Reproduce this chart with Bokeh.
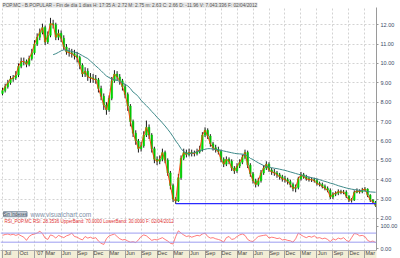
import numpy as np
from bokeh.plotting import figure
from bokeh.models import (Range1d, FixedTicker, CustomJSTickFormatter, Span, Label)
from bokeh.embed import file_html
from bokeh.resources import INLINE

# ---------------- data ----------------
title_text = ("POP.MC - B.POPULAR - Fin de día 1 días H: 17:35 A: 2.72 M: 2.75 m: 2.63 "
              "C: 2.66 D: -11.96 V: 7.043.336 F: 02/04/2012")
rsi_text = "RSI_POP.MC RSI: 28.3536 UpperBand: 70.0000 LowerBand: 30.0000 F: 02/04/2012"

month_labels = ["Jul", "Oct", "'07", "Mar", "Jun", "Sep", "Dec", "Mar", "Jun", "Sep", "Dec",
                "Mar", "Jun", "Sep", "Dec", "Mar", "Jun", "Sep", "Dec", "Mar", "Jun", "Sep",
                "Dec", "Mar"]
month_pos = [0, 3, 6, 8, 11, 14, 17, 20, 23, 26, 29, 32, 35, 38, 41, 44, 47, 50, 53, 56,
             59, 62, 65, 68]          # months since Jul 2006

months = np.arange(0, 70.01, 0.5)    # half-month bars since Jul 2006
open_first = 8.45
close = [8.6, 8.8, 9.0, 9.2, 9.25, 9.4, 9.85, 10.1, 10.1, 9.95,
         10.25, 10.55, 11.0, 11.35, 11.6, 11.85, 11.1, 11.45, 12.05, 12.0,
         11.35, 11.55, 11.3, 10.85, 10.6, 10.55, 10.5, 10.4, 10.3, 9.9,
         9.45, 9.6, 9.3, 9.25, 9.2, 9.15, 8.7, 8.3, 7.85, 7.6,
         8.2, 9.1, 9.45, 9.3, 9.1, 8.8, 8.4, 7.8, 7.0, 6.4,
         6.0, 5.6, 5.75, 6.3, 6.7, 6.3, 5.6, 5.05, 4.95, 5.05,
         5.4, 5.0, 4.35, 3.7, 3.0, 2.9, 4.1, 5.1, 5.4, 5.3,
         5.4, 5.35, 5.35, 5.45, 5.55, 6.3, 6.55, 6.25, 5.85, 5.65,
         5.55, 5.45, 5.05, 4.8, 5.05, 4.95, 4.6, 4.45, 4.7, 4.9,
         5.15, 5.4, 4.75, 4.3, 3.95, 3.75, 3.95, 4.35, 4.6, 4.8,
         4.5, 4.4, 4.35, 4.25, 4.15, 4.05, 4.0, 3.9, 3.75, 3.55,
         3.6, 4.05, 4.25, 4.15, 4.05, 4.0, 4.0, 3.95, 3.8, 3.75,
         3.65, 3.55, 3.45, 3.1, 3.25, 3.3, 3.38, 3.35, 3.36, 3.15,
         2.95, 2.95, 3.35, 3.42, 3.38, 3.47, 3.52, 3.2, 2.95, 2.85,
         2.66]
high = [8.75, 8.95, 9.15, 9.35, 9.4, 9.6, 10.0, 10.3, 10.3, 10.2,
        10.4, 10.75, 11.2, 11.55, 11.8, 12.05, 11.95, 11.65, 12.35, 12.25,
        12.1, 11.75, 11.7, 11.45, 11.0, 10.8, 10.75, 10.7, 10.6, 10.4,
        10.0, 9.8, 9.75, 9.5, 9.45, 9.4, 9.25, 8.85, 8.45, 8.0,
        8.35, 9.3, 9.65, 9.6, 9.45, 9.2, 8.95, 8.5, 7.9, 7.1,
        6.55, 6.1, 5.95, 6.5, 7.05, 6.85, 6.4, 5.7, 5.2, 5.25,
        5.6, 5.5, 5.1, 4.45, 3.8, 3.1, 4.3, 5.25, 5.6, 5.55,
        5.6, 5.55, 5.5, 5.6, 5.75, 6.45, 6.7, 6.65, 6.35, 5.95,
        5.8, 5.7, 5.55, 5.15, 5.2, 5.15, 5.05, 4.7, 4.85, 5.05,
        5.3, 5.55, 5.5, 4.85, 4.4, 4.05, 4.1, 4.5, 4.75, 4.95,
        4.9, 4.6, 4.55, 4.45, 4.35, 4.25, 4.2, 4.1, 4.0, 3.85,
        3.75, 4.15, 4.4, 4.35, 4.25, 4.15, 4.12, 4.1, 4.05, 3.9,
        3.85, 3.75, 3.65, 3.55, 3.35, 3.4, 3.5, 3.48, 3.47, 3.45,
        3.2, 3.05, 3.45, 3.55, 3.5, 3.58, 3.62, 3.55, 3.25, 3.0,
        2.9]
low = [8.35, 8.5, 8.7, 8.9, 9.05, 9.15, 9.3, 9.75, 9.9, 9.8,
       9.85, 10.15, 10.45, 10.9, 11.2, 11.5, 10.95, 11.0, 11.35, 11.8,
       11.2, 11.2, 11.1, 10.7, 10.45, 10.35, 10.3, 10.2, 10.05, 9.7,
       9.3, 9.3, 9.1, 9.0, 9.0, 8.95, 8.5, 8.1, 7.6, 7.35,
       7.5, 8.1, 9.0, 9.1, 8.9, 8.6, 8.2, 7.55, 6.75, 6.2,
       5.8, 5.4, 5.45, 5.65, 6.2, 6.1, 5.4, 4.85, 4.75, 4.8,
       4.95, 4.85, 4.2, 3.5, 2.85, 2.75, 2.85, 4.0, 5.0, 5.15,
       5.2, 5.2, 5.2, 5.25, 5.35, 5.45, 6.2, 6.1, 5.7, 5.5,
       5.4, 5.3, 4.9, 4.65, 4.7, 4.8, 4.45, 4.3, 4.35, 4.6,
       4.8, 5.05, 4.6, 4.15, 3.8, 3.6, 3.65, 3.85, 4.25, 4.5,
       4.4, 4.25, 4.2, 4.1, 4.0, 3.9, 3.85, 3.75, 3.6, 3.4,
       3.35, 3.5, 3.95, 4.05, 3.95, 3.9, 3.88, 3.85, 3.7, 3.65,
       3.55, 3.45, 3.35, 3.0, 3.0, 3.15, 3.2, 3.25, 3.25, 3.05,
       2.85, 2.82, 2.9, 3.3, 3.28, 3.3, 3.4, 3.1, 2.85, 2.75,
       2.6]

ma_start = 9.5
ma = [10.45, 10.5, 10.57, 10.65, 10.7, 10.68, 10.65, 10.62, 10.58, 10.55,
      10.48, 10.4, 10.32, 10.25, 10.12, 10.0, 9.87, 9.75, 9.62, 9.48,
      9.35, 9.27, 9.2, 9.16, 9.12, 9.07, 9.0, 8.92, 8.84, 8.7,
      8.52, 8.42, 8.28, 8.1, 7.95, 7.82, 7.68, 7.52, 7.38, 7.22,
      7.08, 6.93, 6.77, 6.6, 6.42, 6.22, 6.0, 5.82, 5.6, 5.45,
      5.37, 5.34, 5.36, 5.4, 5.44, 5.48, 5.53, 5.57, 5.6, 5.6,
      5.58, 5.56, 5.54, 5.51, 5.48, 5.45, 5.42, 5.39, 5.36, 5.34,
      5.33, 5.32, 5.3, 5.22, 5.1, 5.04, 4.95, 4.87, 4.8, 4.73,
      4.68, 4.65, 4.62, 4.59, 4.57, 4.54, 4.51, 4.48, 4.44, 4.4,
      4.36, 4.32, 4.28, 4.25, 4.21, 4.17, 4.14, 4.1, 4.07, 4.04,
      4.0, 3.95, 3.91, 3.87, 3.82, 3.79, 3.74, 3.69, 3.65, 3.61,
      3.57, 3.54, 3.51, 3.49, 3.47, 3.45, 3.43, 3.41, 3.39, 3.37,
      3.36, 3.35]

rsi = [60, 64, 66, 62, 65, 60, 64, 58, 52, 38,
       55, 63, 66, 70, 78, 68, 48, 42, 62, 58,
       48, 60, 55, 50, 58, 62, 70, 55, 52, 45,
       40, 55, 48, 52, 46, 50, 35, 25, 20, 45,
       58, 62, 66, 55, 45, 40, 42, 35, 30, 32,
       28, 40, 55, 62, 58, 48, 38, 42, 40, 45,
       50, 42, 35, 25, 22, 55, 80, 70, 62, 55,
       58, 52, 56, 60, 58, 66, 70, 55, 48, 50,
       45, 42, 38, 30, 50, 55, 42, 45, 55, 62,
       66, 60, 42, 35, 33, 45, 55, 58, 60, 62,
       48, 52, 50, 46, 48, 40, 42, 38, 36, 30,
       45, 70, 62, 55, 50, 56, 52, 58, 48, 50,
       45, 48, 42, 32, 45, 40, 48, 44, 50, 38,
       32, 50, 68, 66, 58, 60, 55, 38, 32, 35,
       28.35]

support_start, support_level = 32.5, 2.76
last_price, last_rsi = 2.66, 28.35

assert len(close) == len(high) == len(low) == len(rsi) == len(months)

# ---------------- layout constants (pixels) ----------------
FRAME_TOP, FRAME_BOT, FRAME_W = 7, 248, 376
Y12_PX, PX_PER_UNIT = 24.0, 19.22
X0_PX, PX_PER_MONTH = 2.0, 5.33
RSI100_PX, RSI0_PX = 224.0, 246.5

def price_at(py):
    return 12 - (py - Y12_PX) / PX_PER_UNIT

def month_at(px):
    return (px - X0_PX) / PX_PER_MONTH

y0, y1 = price_at(FRAME_BOT), price_at(FRAME_TOP)
P100, P0 = price_at(RSI100_PX), price_at(RSI0_PX)
to_rsi = lambda pv: (pv - P0) / (P100 - P0) * 100

p = figure(width=400, height=258, output_backend="svg", toolbar_location=None,
           x_range=Range1d(month_at(0), month_at(FRAME_W)), y_range=Range1d(y0, y1),
           y_axis_location="right", min_border=0, background_fill_color="white",
           border_fill_color="white", outline_line_color=None)
p.extra_y_ranges = {"rsi": Range1d(to_rsi(y0), to_rsi(y1))}

# title bar
p.title.text = title_text
p.title.text_font = "Liberation Sans"
p.title.text_font_size = "4.75px"
p.title.text_font_style = "normal"
p.title.text_color = "#555555"
p.title.background_fill_color = "#E4E4E4"
p.title.standoff = 0
p.title.offset = 2

# grids
p.xgrid.ticker = FixedTicker(ticks=month_pos)
p.ygrid.ticker = FixedTicker(ticks=list(range(2, 13)))
for g in (p.xgrid[0], p.ygrid[0]):
    g.grid_line_color = "#C8C8C8"
    g.grid_line_dash = "2 2"
    g.grid_line_width = 0.8

# right axis
ya = p.yaxis[0]
ya.ticker = FixedTicker(ticks=list(range(2, 13)) + [P100, P0])
ya.formatter = CustomJSTickFormatter(code=f"""
if (tick < 1.8) {{ return Math.round((tick - {P0}) / ({P100} - {P0}) * 100).toFixed(2); }}
return tick.toFixed(2);""")
ya.major_label_text_font = "Liberation Sans"
ya.major_label_text_font_size = "5.5px"
ya.major_label_text_color = "#3A4A66"
ya.major_label_standoff = 2
ya.major_tick_out = 2
ya.major_tick_in = 0
ya.minor_tick_line_color = None
ya.minor_tick_out = 0
ya.axis_line_color = "#9A9A9A"
ya.major_tick_line_color = "#9A9A9A"

# bottom axis
xa = p.xaxis[0]
xa.ticker = FixedTicker(ticks=[m + 1 for m in month_pos], minor_ticks=month_pos)
xa.major_label_overrides = {m + 1: lab for m, lab in zip(month_pos, month_labels)}
xa.major_label_text_font = "Liberation Sans"
xa.major_label_text_font_size = "5.5px"
xa.major_label_text_color = "#444444"
xa.major_label_standoff = -11
xa.major_tick_line_color = None
xa.major_tick_out = 0
xa.major_tick_in = 0
xa.minor_tick_line_color = "#A0A0A0"
xa.minor_tick_out = 10
xa.minor_tick_in = 0
xa.axis_line_color = "#B0B0B0"
try:
    xa.background_fill_color = "#F2EDD5"
except Exception:
    pass

# RSI panel
for lvl in (70, 30):
    p.add_layout(Span(location=lvl, dimension="width", y_range_name="rsi",
                      line_color="#9C9CF0", line_width=1))
p.line(months, rsi, y_range_name="rsi", line_color="#FF5A5A", line_width=0.8)

# price panel
opens = [open_first] + close[:-1]
up = [i for i in range(len(close)) if close[i] >= opens[i]]
dn = [i for i in range(len(close)) if close[i] < opens[i]]
p.segment(x0=months, y0=low, x1=months, y1=high, line_color="black", line_width=0.9)
p.vbar(x=[months[i] for i in up], bottom=[opens[i] for i in up], top=[close[i] for i in up],
       width=0.3, fill_color="#00D800", line_color="#00D800", line_width=0.5)
p.vbar(x=[months[i] for i in dn], bottom=[close[i] for i in dn], top=[opens[i] for i in dn],
       width=0.3, fill_color="#00C400", line_color="#00C400", line_width=0.5)
p.line(months, close, line_color="#FF3A00", line_width=0.9)
ma_x = [m for m in months if m >= ma_start - 1e-9]
p.line(ma_x, ma, line_color="#3F8A8A", line_width=1)
p.segment(x0=[support_start], y0=[support_level], x1=[months[-1] + 0.3], y1=[support_level],
          line_color="#2B2BFF", line_width=1.2)

# texts
p.add_layout(Label(x=month_at(3), y=price_at(212), text="Sin Indexes", text_font="Liberation Sans",
                   text_font_size="4.5px", text_color="#334455", text_baseline="middle",
                   background_fill_color="#D5DAE2", border_line_color="#8090A0"))
p.add_layout(Label(x=month_at(30), y=price_at(212), text="www.visualchart.com",
                   text_font="Liberation Sans", text_font_size="6.5px", text_color="#8090A8",
                   text_baseline="middle"))
p.add_layout(Label(x=month_at(4), y=price_at(219), text=rsi_text, text_font="Liberation Sans",
                   text_font_size="4.5px", text_color="#E03030", text_baseline="middle"))
p.add_layout(Label(x=month_at(387), y=last_price, text=f"{last_price:.2f}",
                   text_font="Liberation Sans", text_font_size="5.5px", text_color="#3A4A66",
                   text_align="center", text_baseline="middle",
                   background_fill_color="#FFFFB0", border_line_color="#A0A070"))
p.add_layout(Label(x=month_at(387), y=last_rsi, y_range_name="rsi", text=f"{last_rsi:.2f}",
                   text_font="Liberation Sans", text_font_size="5.5px", text_color="#3A4A66",
                   text_align="center", text_baseline="middle",
                   background_fill_color="#FFFFB0", border_line_color="#A0A070"))
# window buttons (main and RSI sub-window)
for py in (3, 219):
    p.add_layout(Label(x=month_at(390), y=price_at(py), text="▁▫×", text_font="DejaVu Sans",
                       text_font_size="5px", text_color="#555555", text_align="center",
                       text_baseline="middle"))

open("out.html", "w").write(file_html(p, INLINE))
